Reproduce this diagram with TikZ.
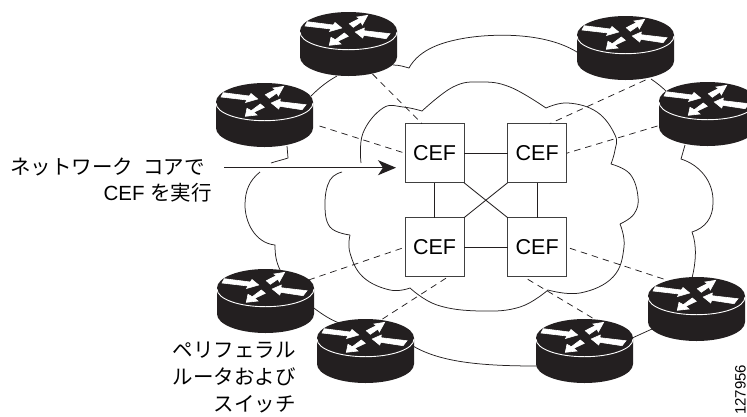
\documentclass[tikz,border=0pt]{standalone}
\usepackage{fontspec}
\setmainfont{Liberation Sans}
\newfontfamily\jpfont{Noto Sans CJK JP}
\usetikzlibrary{arrows.meta,calc}
\definecolor{routerink}{HTML}{231F20}
\tikzset{
  x=1pt,y=-1pt,
  routerbox/.style={rectangle,minimum width=97pt,minimum height=64pt,inner sep=0pt,outer sep=0pt,anchor=north west},
  cefbox/.style={draw=black!75,fill=white,line width=.9pt,minimum width=59pt,minimum height=59pt,inner sep=0pt,outer sep=0pt,anchor=north west,font=\fontsize{21.5}{21.5}\selectfont},
  cloudline/.style={line width=.75pt,draw=routerink},
  dashlink/.style={line width=.75pt,draw=routerink,dash pattern=on 6.5pt off 5pt},
  ceflink/.style={line width=.85pt,draw=routerink},
  whitearrow/.style={fill=white,draw=white,line width=.6pt,line join=miter},
  labelone/.style={align=right,anchor=east,inner sep=0pt,font=\fontsize{20.5}{26}\selectfont},
  labeltwo/.style={align=right,anchor=east,inner sep=0pt,font=\fontsize{20.5}{27}\selectfont},
}
\newcommand{\drawrouter}[1]{%
  \begin{scope}[shift={(#1.north west)}]
    \fill[routerink] (0,19) -- (0,45) .. controls (0,55.5) and (21.7,64) .. (48.5,64)
      .. controls (75.3,64) and (97,55.5) .. (97,45) -- (97,19)
      .. controls (97,8.5) and (75.3,0) .. (48.5,0) .. controls (21.7,0) and (0,8.5) .. (0,19) -- cycle;
    \draw[white,line width=.9pt] (0,20) .. controls (0,30) and (21.7,37.7) .. (48.5,37.7)
      .. controls (75.3,37.7) and (97,30) .. (97,20);
    \path[whitearrow] (7.3,9.7) -- (33.3,13) -- (35,10.5) -- (41.7,16) -- (29.5,19.5) -- (31,17) -- (5,14) -- cycle;
    \path[whitearrow] (49.3,11.7) -- (59.5,6.5) -- (57,5) -- (67.7,3.3) -- (62.3,13) -- (61,10) -- (53.3,15.3) -- cycle;
    \path[whitearrow] (55.3,20) -- (64.3,16) -- (64,18.7) -- (90,21.7) -- (86,26.7) -- (63.7,23.3) -- (62.7,26) -- cycle;
    \path[whitearrow] (29.3,33.3) -- (31,25.3) -- (35.3,27.7) -- (44.3,21) -- (48.3,24.3) -- (37.7,29.3) -- (41,32) -- cycle;
  \end{scope}}
\begin{document}
\begin{tikzpicture}
\useasboundingbox (0,0) rectangle (747,416);
\clip (0,0) rectangle (747,416);
% routers (placement)
\node[routerbox] (r1) at (300,12) {};
\node[routerbox] (r2) at (216,83) {};
\node[routerbox] (r3) at (577,16) {};
\node[routerbox] (r4) at (659,82) {};
\node[routerbox] (r5) at (217,269) {};
\node[routerbox] (r6) at (317,319) {};
\node[routerbox] (r7) at (536,319) {};
\node[routerbox] (r8) at (648,277) {};
% outer cloud
\draw[cloudline] (393,65) .. controls (400,65) and (405,67) .. (409,68)
  .. controls (420,48) and (445,42) .. (460,39) .. controls (485,34) and (545,30) .. (580,54);
\draw[cloudline] (651,79) .. controls (657,83) and (662,87) .. (668,93);
\draw[cloudline] (685,145) -- (681,159) .. controls (700,165) and (714,182) .. (713,203)
  .. controls (713,218) and (705,228) .. (692,232) .. controls (697,245) and (696,262) .. (692,278);
\draw[cloudline] (652,329) -- (630,339);
\draw[cloudline] (537,366) .. controls (480,366) and (440,362) .. (413,346);
\draw[cloudline] (342,324) .. controls (330,320) and (322,314) .. (311,306);
\draw[cloudline] (281,272) .. controls (276,262) and (275,255) .. (275,245)
  .. controls (255,243) and (245,222) .. (245,205) .. controls (245,190) and (250,180) .. (260,172);
\draw[cloudline] (271,163) .. controls (277,161) and (282,160) .. (288,158) -- (287,146);
\draw[cloudline] (311,96) .. controls (320,87) and (328,81) .. (337,76);
% inner cloud
\draw[cloudline] plot[smooth,tension=.7] coordinates {(361,163) (363,133) (383,108) (403,107) (422,111)};
\draw[cloudline] plot[smooth,tension=.7] coordinates {(422,111) (453,87) (480,82) (510,87) (546,108)};
\draw[cloudline] plot[smooth,tension=.7] coordinates {(546,108) (568,103) (597,112) (615,135) (615,150) (611,164)};
\draw[cloudline] plot[smooth,tension=.7] coordinates {(611,164) (630,174) (638,197) (634,214) (620,224)};
\draw[cloudline] plot[smooth,tension=.7] coordinates {(620,224) (624,247) (613,277) (580,293) (548,290)};
\draw[cloudline] plot[smooth,tension=.7] coordinates {(548,290) (520,307) (480,311) (437,305) (410,288)};
\draw[cloudline] plot[smooth,tension=.7] coordinates {(410,288) (390,290) (363,277) (350,253) (350,235)};
\draw[cloudline] plot[smooth,tension=.7] coordinates {(350,235) (330,227) (325,203) (330,180) (342,172)};
% dashed links and CEF nodes
\node[cefbox] (tl) at (405,123.7) {CEF};
\node[cefbox] (tr) at (507.7,123.7) {CEF};
\node[cefbox] (bl) at (405,217.7) {CEF};
\node[cefbox] (br) at (507.7,217.7) {CEF};
\draw[dashlink] ($(r1.center)+(24,30)$) -- (tl.113);
\draw[dashlink] ($(r2.center)+(55,11)$) -- (tl.180);
\draw[dashlink] ($(r3.center)+(20,32)$) -- (tr.67);
\draw[dashlink] ($(r4.center)+(-50,12)$) -- (tr.0);
\draw[dashlink] ($(r5.center)+(43,-21)$) -- (bl.180);
\draw[dashlink] ($(r6.center)+(17,-32)$) -- (bl.-65);
\draw[dashlink] ($(r7.center)+(8,-33)$) -- (br.-115);
\draw[dashlink] ($(r8.center)+(-33,-30)$) -- (br.0);
\draw[ceflink] (tl) -- (tr);
\draw[ceflink] (bl) -- (br);
\draw[ceflink] (tl) -- (bl);
\draw[ceflink] (tr) -- (br);
\draw[ceflink] (tl.south east) -- (br.north west);
\draw[ceflink] (tr.south west) -- (bl.north east);
% router icons on top
\foreach \r in {r1,r2,r3,r4,r5,r6,r7,r8}{\drawrouter{\r}}
% labels
\node[labelone] (lab1) at (212,180) {{\jpfont ネットワーク\hspace{10pt}コアで}\hspace*{7pt}\\CEF {\jpfont を実行}};
\coordinate (arrowtail) at (224,167.7);
\coordinate (arrowtip) at ($(tl.west |- arrowtail)+(-9,0)$);
\draw[line width=1.1pt,draw=routerink,-{Stealth[length=18pt,width=15pt,inset=5pt]}] (arrowtail) -- (arrowtip);
\node[labeltwo] (lab2) at (296,377) {\jpfont ペリフェラル\\\jpfont ルータおよび\\\jpfont スイッチ};
\node[rotate=90,anchor=south west,inner sep=0pt,font=\fontsize{15}{15}\selectfont] (idn) at (746,415) {127956};
\end{tikzpicture}
\end{document}
